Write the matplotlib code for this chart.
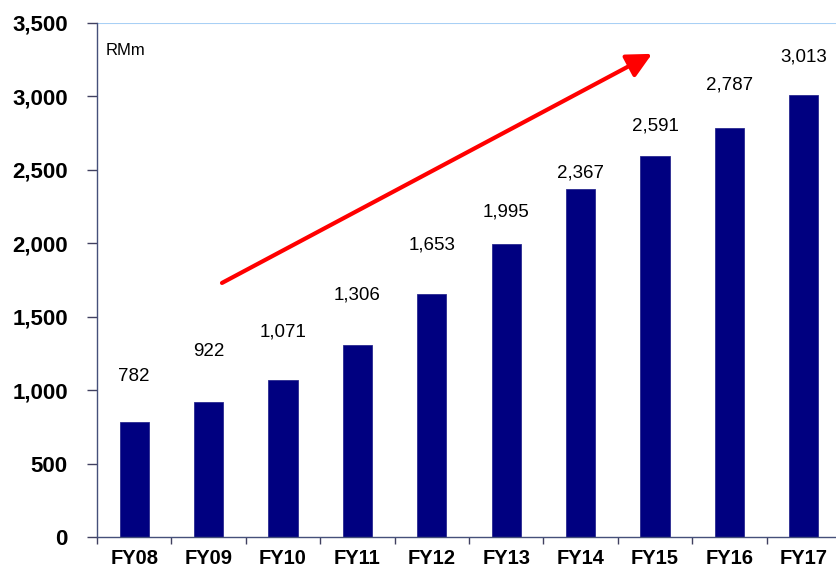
import matplotlib
matplotlib.use("Agg")
import matplotlib.pyplot as plt

plt.rcParams["font.family"] = ["Liberation Sans", "DejaVu Sans"]

years = ["FY08", "FY09", "FY10", "FY11", "FY12", "FY13", "FY14", "FY15", "FY16", "FY17"]
values = [782, 922, 1071, 1306, 1653, 1995, 2367, 2591, 2787, 3013]
# label heights as placed in the original chart (data units)
label_y = [1090, 1262, 1396, 1648, 1988, 2213, 2479, 2799, 3078, 3268]
yticks = [0, 500, 1000, 1500, 2000, 2500, 3000, 3500]

fig = plt.figure(figsize=(8.36, 5.71), dpi=100)
ax = fig.add_axes([97 / 836, (571 - 537) / 571, 744 / 836, 514 / 571])

x = range(len(years))
ax.bar(x, values, width=0.39, color="#000080", edgecolor="#2a2a90", linewidth=0.6, zorder=2)

for i, v in enumerate(values):
    ax.text(i, label_y[i], f"{v:,}", ha="center", va="center", fontsize=13.5, color="black")

ax.set_xlim(-0.5, len(years) - 0.5)
ax.set_ylim(0, 3500)
ax.set_yticks(yticks)
ax.set_yticklabels([f"{t:,}" for t in yticks], fontsize=16, fontweight="bold")
ax.set_xticks(list(x))
ax.set_xticklabels(years, fontsize=14.5, fontweight="bold")
ax.tick_params(axis="x", length=0, pad=9)
ax.set_xticks([i - 0.5 for i in range(len(years) + 1)], minor=True)
ax.tick_params(axis="x", which="minor", length=5, color="#404060", width=1)
ax.tick_params(axis="y", length=7, color="#404060", width=1, pad=14)

ax.axhline(3500, color="#a8d0f5", linewidth=1.5, zorder=1)

for s in ["top", "right"]:
    ax.spines[s].set_visible(False)
for s in ["left", "bottom"]:
    ax.spines[s].set_color("#45507a")
    ax.spines[s].set_linewidth(1)

ax.text(0.011, 0.947, "RMm", transform=ax.transAxes, fontsize=12, va="center", ha="left")

# red trend arrow
ax.annotate("", xy=(6.96, 3290), xytext=(1.18, 1730),
            arrowprops=dict(arrowstyle="-|>,head_length=1.5,head_width=0.75",
                            color="#ff0000", lw=3, shrinkA=0, shrinkB=0))

fig.savefig("out.png", dpi=100)
